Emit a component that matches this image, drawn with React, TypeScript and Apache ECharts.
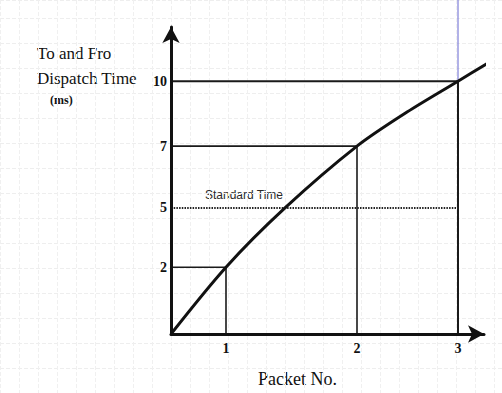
import React, { useEffect, useRef } from "react";
import * as echarts from "echarts";

// Packet numbers and where they sit along the drawn (non-linear) x axis
const packetLabels = ["1", "2", "3"];
const packetPos = [0.55, 1.86, 2.87];
// Dispatch time ticks (ms) and where they sit along the drawn y axis
const timeLabels = ["2", "5", "7", "10"];
const timePos = [1.06, 2.0, 2.98, 4.01];
// Curve samples (axis units)
const curveX = [0, 0.55, 1.14, 1.86, 2.36, 2.87, 3.17];
const curveY = [0, 1.06, 2.0, 2.98, 3.52, 4.01, 4.3];
// Which time tick each packet reaches
const packetTimeIndex = [0, 2, 3];
const standardIndex = 1;
const blueTop = 5.3;

const SERIF = "'Liberation Serif', 'DejaVu Serif', serif";
const SANS = "'Liberation Sans', Arial, sans-serif";

function fmt(list: number[], labels: string[]) {
  return (v: number) => {
    const i = list.findIndex((p) => Math.abs(p - v) < 1e-6);
    return i >= 0 ? labels[i] : "";
  };
}

export default function App() {
  const ref = useRef<HTMLDivElement>(null);
  useEffect(() => {
    if (!ref.current) return;
    const chart = echarts.init(ref.current, null, { renderer: "svg" });

    const guides = packetPos.map((px, k) => {
      const ty = timePos[packetTimeIndex[k]];
      return {
        type: "line",
        xAxisIndex: 0,
        yAxisIndex: 0,
        data: [
          [0, ty],
          [px, ty],
          [px, 0],
        ],
        symbol: "none",
        silent: true,
        lineStyle: { color: "#1a1a1a", width: k === 2 ? 2 : 1.6 },
        z: 3,
      };
    });

    chart.setOption({
      animation: false,
      backgroundColor: "#ffffff",
      textStyle: { fontFamily: SERIF },
      grid: [
        { left: 171, top: 27, right: 18, bottom: 59 },
        { left: 0, top: 0, right: 0, bottom: 0 },
      ],
      xAxis: [
        {
          type: "value",
          gridIndex: 0,
          min: 0,
          max: 3.13,
          axisLine: {
            show: true,
            symbol: ["none", "arrow"],
            symbolSize: [13, 16],
            lineStyle: { color: "#111", width: 3 },
          },
          axisTick: { show: false },
          splitLine: { show: false },
          axisLabel: {
            customValues: packetPos,
            formatter: fmt(packetPos, packetLabels),
            color: "#111",
            fontFamily: SERIF,
            fontSize: 14,
            fontWeight: "bold",
            margin: 7,
          },
          z: 5,
        },
        {
          type: "value",
          gridIndex: 1,
          min: 0,
          max: 26.4,
          interval: 1,
          axisLine: { show: false },
          axisTick: { show: false },
          axisLabel: { show: false },
          splitLine: { show: true, lineStyle: { color: "#f0f0f0", width: 1, type: "dashed" } },
        },
      ],
      yAxis: [
        {
          type: "value",
          gridIndex: 0,
          min: 0,
          max: 4.87,
          axisLine: {
            show: true,
            symbol: ["none", "arrow"],
            symbolSize: [13, 16],
            lineStyle: { color: "#111", width: 3 },
          },
          axisTick: { show: false },
          splitLine: { show: false },
          axisLabel: {
            customValues: timePos,
            formatter: fmt(timePos, timeLabels),
            color: "#111",
            fontFamily: SERIF,
            fontSize: 14,
            fontWeight: "bold",
            margin: 4,
          },
          z: 5,
        },
        {
          type: "value",
          gridIndex: 1,
          min: 0,
          max: 15.72,
          interval: 1,
          axisLine: { show: false },
          axisTick: { show: false },
          axisLabel: { show: false },
          splitLine: { show: true, lineStyle: { color: "#eeeeee", width: 1, type: "dashed" } },
        },
      ],
      series: [
        {
          type: "line",
          xAxisIndex: 1,
          yAxisIndex: 1,
          data: [],
          silent: true,
        },
        ...guides,
        {
          type: "line",
          xAxisIndex: 0,
          yAxisIndex: 0,
          data: [
            [packetPos[2], timePos[3]],
            [packetPos[2], blueTop],
          ],
          symbol: "none",
          clip: false,
          silent: true,
          lineStyle: { color: "#7f7fd8", width: 1.2 },
          z: 3,
        },
        {
          type: "line",
          xAxisIndex: 0,
          yAxisIndex: 0,
          data: [
            [0, timePos[standardIndex]],
            [packetPos[2], timePos[standardIndex]],
          ],
          symbol: "none",
          silent: true,
          lineStyle: { color: "#222", width: 2, type: [1.5, 1.2] },
          z: 3,
        },
        {
          type: "line",
          xAxisIndex: 0,
          yAxisIndex: 0,
          data: curveX.map((x, i) => [x, curveY[i]]),
          smooth: 0.3,
          symbol: "none",
          clip: false,
          silent: true,
          lineStyle: { color: "#111", width: 3 },
          z: 4,
        },
      ],
      graphic: [
        {
          type: "text",
          left: 37,
          top: 45,
          style: { text: "To and Fro", font: `17px ${SERIF}`, fill: "#111" },
        },
        {
          type: "text",
          left: 37,
          top: 70,
          style: { text: "Dispatch Time", font: `17px ${SERIF}`, fill: "#111" },
        },
        {
          type: "text",
          left: 50,
          top: 94,
          style: { text: "(ms)", font: `bold 12px ${SERIF}`, fill: "#111" },
        },
        {
          type: "text",
          left: 205,
          top: 189,
          style: { text: "Standard Time", font: `12px ${SANS}`, fill: "#2a2a2a" },
        },
        {
          type: "text",
          left: 258,
          top: 370,
          style: { text: "Packet No.", font: `18px ${SERIF}`, fill: "#111" },
        },
      ],
    });
    return () => chart.dispose();
  }, []);
  return (
    <div
      ref={ref}
      style={{ position: "absolute", left: 0, top: 0, width: 502, height: 393 }}
    />
  );
}
